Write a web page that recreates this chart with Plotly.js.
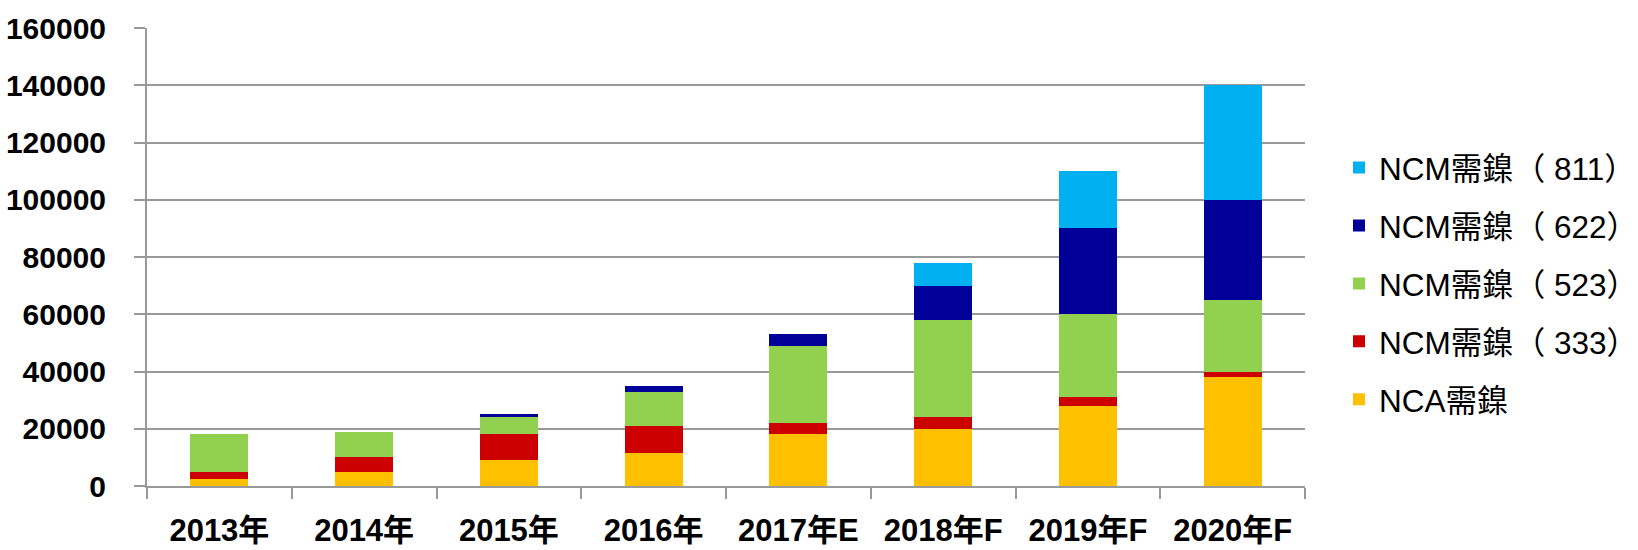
<!DOCTYPE html>
<html>
<head>
<meta charset="utf-8">
<script src="https://cdn.plot.ly/plotly-3.0.1.min.js"></script>
<style>html,body{margin:0;padding:0;background:#fff;}#chart{width:1638px;height:550px;}</style>
</head>
<body>
<div id="chart"></div>
<script>
const categories = ["2013年", "2014年", "2015年", "2016年", "2017年E", "2018年F", "2019年F", "2020年F"];
const ncaNickel   = [2500, 5000, 9000, 11500, 18000, 20000, 28000, 38000];
const ncm333      = [2500, 5000, 9000, 9500, 4000, 4000, 3000, 2000];
const ncm523      = [13000, 9000, 6000, 12000, 27000, 34000, 29000, 25000];
const ncm622      = [0, 0, 1000, 2000, 4000, 12000, 30000, 35000];
const ncm811      = [0, 0, 0, 0, 0, 8000, 20000, 40000];
const seriesNames = ["NCA需鎳", "NCM需鎳（ 333）", "NCM需鎳（ 523）", "NCM需鎳（ 622）", "NCM需鎳（ 811）"];
const yTicks = [0, 20000, 40000, 60000, 80000, 100000, 120000, 140000, 160000];

const colors = ["#FFC000", "#CC0000", "#92D050", "#000099", "#00B0F0"];
const values = [ncaNickel, ncm333, ncm523, ncm622, ncm811];
const FONT = "Liberation Sans, Arial, Noto Sans CJK TC, sans-serif";

const traces = values.map((v, i) => ({
  type: "bar",
  x: categories,
  y: v,
  name: seriesNames[i],
  legendgroup: "g" + i,
  legendrank: 1000 - i * 100,
  marker: {color: colors[i], line: {width: 0}},
  hoverinfo: "x+y+name"
}));

const layout = {
  width: 1638, height: 550,
  margin: {l: 147, r: 333, t: 28, b: 64, pad: 0},
  paper_bgcolor: "#ffffff",
  plot_bgcolor: "#ffffff",
  barmode: "stack",
  bargap: 0.6,
  font: {family: FONT, color: "#000"},
  xaxis: {
    type: "category",
    automargin: false,
    showline: true, linecolor: "#999999", linewidth: 2,
    ticks: "outside", tickson: "boundaries", ticklen: 11, tickwidth: 2, tickcolor: "#999999",
    ticklabelstandoff: 16,
    tickfont: {family: FONT, size: 31, color: "#000", weight: "bold"},
    showgrid: false, zeroline: false
  },
  yaxis: {
    range: [0, 160000],
    automargin: false,
    tickvals: yTicks,
    ticktext: yTicks.map(String),
    showline: true, linecolor: "#999999", linewidth: 2,
    ticks: "outside", ticklen: 11, tickwidth: 2, tickcolor: "#999999",
    ticklabelstandoff: 22,
    tickfont: {family: FONT, size: 30, color: "#000", weight: "bold"},
    showgrid: true, gridcolor: "#999999", gridwidth: 2,
    zeroline: false
  },
  legend: {
    xref: "container", yref: "container",
    x: 1339 / 1638, xanchor: "left",
    y: 1 - 278 / 550, yanchor: "middle",
    traceorder: "grouped",
    tracegroupgap: 14,
    font: {family: FONT, size: 31.5, color: "#000"},
    bgcolor: "rgba(0,0,0,0)"
  },
  showlegend: true
};

Plotly.newPlot("chart", traces, layout, {displayModeBar: false, staticPlot: true});
</script>
</body>
</html>
